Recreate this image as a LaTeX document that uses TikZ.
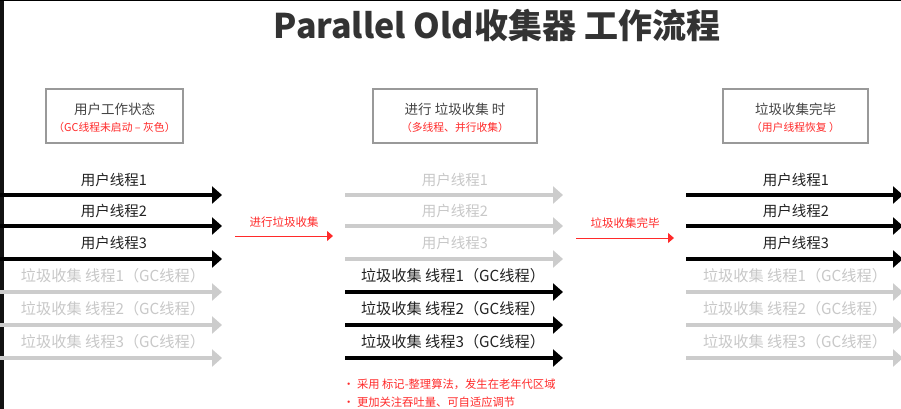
\documentclass[tikz,border=0pt]{standalone}
\usepackage{fontspec}
\setmainfont{Noto Sans CJK SC}
\usetikzlibrary{arrows.meta}
\definecolor{darkt}{HTML}{222222}
\definecolor{titlec}{HTML}{333333}
\definecolor{boxt}{HTML}{444444}
\definecolor{lightg}{HTML}{CCCCCC}
\definecolor{lightt}{HTML}{C8C8C8}
\definecolor{boxg}{HTML}{999999}
\definecolor{redc}{HTML}{FF2A2A}
\tikzset{
  onarr/.style={line width=4pt, draw=black, -{Triangle[length=10pt,width=17pt]}},
  offarr/.style={line width=4pt, draw=lightg, -{Triangle[length=10pt,width=17pt]}},
  onlbl/.style={text=darkt, font=\fontsize{14.5}{16}\selectfont, inner sep=0pt},
  offlbl/.style={text=lightt, font=\fontsize{14.5}{16}\selectfont, inner sep=0pt},
  gclbl/.style={font=\fontsize{15.2}{17}\selectfont, inner sep=0pt},
  statebox/.style={draw=boxg, line width=1.2pt, minimum height=54pt, inner sep=0pt},
  boxmain/.style={text=boxt, font=\fontsize{13.5}{15}\selectfont, inner sep=0pt},
  boxsub/.style={text=redc, font=\fontsize{10.8}{12}\selectfont, inner sep=0pt},
  redarr/.style={draw=redc, line width=1pt, -{Triangle[length=6pt,width=10pt]}},
  redlbl/.style={text=redc, font=\fontsize{11.5}{13}\selectfont, inner sep=0pt},
  notelbl/.style={text=redc, font=\fontsize{11.3}{13}\selectfont, inner sep=0pt, anchor=west},
}
\begin{document}
\begin{tikzpicture}[x=1pt,y=-1pt]
\useasboundingbox (0,0) rectangle (901,409);
\fill[white] (0,0) rectangle (901,409);
% screenshot border
\fill[black!93] (0,0) rectangle (4,409);
\fill[black] (0,0) rectangle (901,1);

% title
\node[text=titlec, font=\bfseries\fontsize{34}{38}\selectfont, inner sep=0pt] (title) at (497,26) {Parallel Old收集器 工作流程};

% state boxes
\node[statebox, minimum width=137pt] (box1) at (114.5,116) {};
\node[boxmain] (box1t) at (114.5,109) {用户工作状态};
\node[boxsub] (box1s) at (114.5,127) {（GC线程未启动 – 灰色）};
\node[statebox, minimum width=164pt] (box2) at (455,116) {};
\node[boxmain] (box2t) at (455,109) {进行 垃圾收集 时};
\node[boxsub] (box2s) at (455,127) {（多线程、并行收集）};
\node[statebox, minimum width=145pt] (box3) at (795.5,116) {};
\node[boxmain] (box3t) at (795.5,109) {垃圾收集完毕};
\node[boxsub] (box3s) at (795.5,127) {（用户线程恢复 ）};

% user threads
\foreach \r/\y/\ly in {1/195/180, 2/226/211, 3/259/243} {
  % left (on)
  \node[onlbl] (a-u\r-l) at (114,\ly) {用户线程\r};
  \coordinate (a-u\r-s) at (0,\y);
  \coordinate (a-u\r-e) at (222,\y);
  \draw[onarr] (a-u\r-s) -- (a-u\r-e);
  % middle (off)
  \node[offlbl] (b-u\r-l) at (455,\ly) {用户线程\r};
  \coordinate (b-u\r-s) at (345,\y);
  \coordinate (b-u\r-e) at (563,\y);
  \draw[offarr] (b-u\r-s) -- (b-u\r-e);
  % right (on)
  \node[onlbl] (c-u\r-l) at (796,\ly) {用户线程\r};
  \coordinate (c-u\r-s) at (686,\y);
  \coordinate (c-u\r-e) at (903,\y);
  \draw[onarr] (c-u\r-s) -- (c-u\r-e);
}
% GC threads
\foreach \r/\y/\ly in {1/292/276, 2/325/309, 3/358/342} {
  \node[offlbl, gclbl] (a-g\r-l) at (113,\ly) {垃圾收集 线程\r（GC线程）};
  \coordinate (a-g\r-s) at (0,\y);
  \coordinate (a-g\r-e) at (222,\y);
  \draw[offarr] (a-g\r-s) -- (a-g\r-e);
  \node[onlbl, gclbl] (b-g\r-l) at (453,\ly) {垃圾收集 线程\r（GC线程）};
  \coordinate (b-g\r-s) at (345,\y);
  \coordinate (b-g\r-e) at (563,\y);
  \draw[onarr] (b-g\r-s) -- (b-g\r-e);
  \node[offlbl, gclbl] (c-g\r-l) at (795,\ly) {垃圾收集 线程\r（GC线程）};
  \coordinate (c-g\r-s) at (686,\y);
  \coordinate (c-g\r-e) at (903,\y);
  \draw[offarr] (c-g\r-s) -- (c-g\r-e);
}

% transitions
\node[redlbl] (t1l) at (284,222) {进行垃圾收集};
\coordinate (t1s) at (235,236);
\coordinate (t1e) at (333,236);
\draw[redarr] (t1s) -- (t1e);
\node[redlbl] (t2l) at (625,223) {垃圾收集完毕};
\coordinate (t2s) at (576,238);
\coordinate (t2e) at (674,238);
\draw[redarr] (t2s) -- (t2e);

% notes
\node[notelbl] (n1) at (343,384) {• 采用 标记-整理算法，发生在老年代区域};
\node[notelbl] (n2) at (343,402) {• 更加关注吞吐量、可自适应调节};
\end{tikzpicture}
\end{document}
